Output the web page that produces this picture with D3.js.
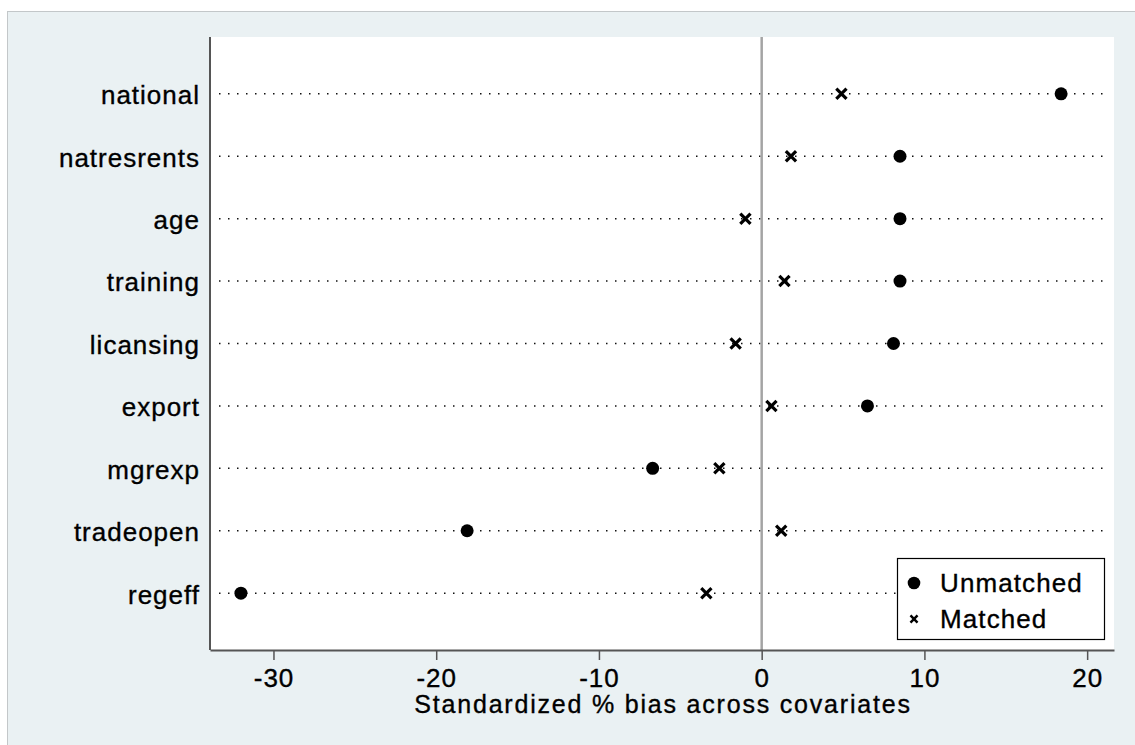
<!DOCTYPE html>
<html>
<head>
<meta charset="utf-8">
<script src="https://cdn.jsdelivr.net/npm/d3@7"></script>
<style>
  html, body { margin: 0; padding: 0; background: #fff; }
  text { font-family: "Liberation Sans", Arial, sans-serif; fill: #000; stroke: #000; stroke-width: 0.35px; }
</style>
</head>
<body>
<svg id="chart"></svg>
<script>
// Covariates, top to bottom
const covariates = ["national", "natresrents", "age", "training", "licansing", "export", "mgrexp", "tradeopen", "regeff"];
// Standardized % bias
const unmatched = [18.4, 8.5, 8.5, 8.5, 8.1, 6.5, -6.7, -18.1, -32.0];
const matched = [4.9, 1.8, -1.0, 1.4, -1.6, 0.6, -2.6, 1.2, -3.4];
const xTicks = [-30, -20, -10, 0, 10, 20];
const legendLabels = ["Unmatched", "Matched"];

// SVG dimensions
const width = 1135;
const height = 745;
const plot = { left: 210, right: 1114, top: 37, bottom: 650 };

const svg = d3.select("#chart")
    .attr("width", width)
    .attr("height", height);

// Outer (graph) region
svg.append("rect")
    .attr("x", 7.5).attr("y", 11.5)
    .attr("width", width).attr("height", height)
    .attr("fill", "#eaf1f3")
    .attr("stroke", "#c3c7c9")
    .attr("stroke-width", 1);

// Plot region
svg.append("rect")
    .attr("x", plot.left).attr("y", plot.top)
    .attr("width", plot.right - plot.left)
    .attr("height", plot.bottom - plot.top)
    .attr("fill", "#fff");

// Scales
const x = d3.scaleLinear()
    .domain([-33.9, 21.65])
    .range([plot.left, plot.right]);

const y = d3.scalePoint()
    .domain(covariates)
    .range([plot.top, plot.bottom])
    .padding(0.91);

// Dotted guide line per covariate
svg.append("g")
    .selectAll("line")
    .data(covariates)
    .enter()
    .append("line")
    .attr("x1", plot.left + 9)
    .attr("x2", plot.right - 4)
    .attr("y1", d => y(d))
    .attr("y2", d => y(d))
    .attr("stroke", "#111")
    .attr("stroke-width", 1.5)
    .attr("stroke-dasharray", "1.5,7.5");

// Zero reference line
svg.append("line")
    .attr("x1", x(0)).attr("x2", x(0))
    .attr("y1", plot.top).attr("y2", plot.bottom)
    .attr("stroke", "#a4a4a4")
    .attr("stroke-width", 2.5);

// X axis
const xAxis = svg.append("g")
    .attr("transform", `translate(0,${plot.bottom})`)
    .call(d3.axisBottom(x).tickValues(xTicks).tickFormat(d => String(d))
        .tickSize(10).tickPadding(9).tickSizeOuter(0));
xAxis.select(".domain").attr("stroke", "#555").attr("stroke-width", 2);
xAxis.selectAll(".tick line").attr("stroke", "#555").attr("stroke-width", 1.5);
xAxis.selectAll(".tick text")
    .attr("font-size", 26)
    .attr("letter-spacing", 0.9)
    .attr("dy", "0.69em")
    .attr("fill", "#000");

// Y axis (labels only, no ticks)
const yAxis = svg.append("g")
    .attr("transform", `translate(${plot.left},0)`)
    .call(d3.axisLeft(y).tickSize(0).tickPadding(10));
yAxis.select(".domain")
    .attr("d", `M0,${plot.top}V${plot.bottom}`)
    .attr("stroke", "#555").attr("stroke-width", 2);
yAxis.selectAll(".tick text")
    .attr("font-size", 26)
    .attr("letter-spacing", 1)
    .attr("dy", "0.38em")
    .attr("fill", "#000");

// Axis title
svg.append("text")
    .attr("x", (plot.left + plot.right) / 2 + 1)
    .attr("y", 713)
    .attr("text-anchor", "middle")
    .attr("font-size", 25)
    .attr("letter-spacing", 1.8)
    .text("Standardized % bias across covariates");

// Unmatched markers
svg.append("g")
    .selectAll("circle")
    .data(unmatched)
    .enter()
    .append("circle")
    .attr("cx", d => x(d))
    .attr("cy", (d, i) => y(covariates[i]))
    .attr("r", 6.5)
    .attr("fill", "#000");

// Matched markers
const cross = d3.symbol().type(d3.symbolX).size(70);
svg.append("g")
    .selectAll("path")
    .data(matched)
    .enter()
    .append("path")
    .attr("d", cross)
    .attr("transform", (d, i) => `translate(${x(d)},${y(covariates[i])})`)
    .attr("fill", "none")
    .attr("stroke", "#000")
    .attr("stroke-width", 3.2);

// Legend
const legend = svg.append("g");
legend.append("rect")
    .attr("x", 897.5).attr("y", 558.5)
    .attr("width", 207).attr("height", 81)
    .attr("fill", "#fff")
    .attr("stroke", "#000")
    .attr("stroke-width", 1.2);

const legendRows = [574, 610];
legend.append("circle")
    .attr("cx", 914).attr("cy", legendRows[0] + 9)
    .attr("r", 6.3).attr("fill", "#000");
legend.append("path")
    .attr("d", d3.symbol().type(d3.symbolX).size(34))
    .attr("transform", `translate(914,${legendRows[1] + 9})`)
    .attr("fill", "none").attr("stroke", "#000").attr("stroke-width", 2.5);

legend.selectAll("text")
    .data(legendLabels)
    .enter()
    .append("text")
    .attr("x", 940)
    .attr("y", (d, i) => legendRows[i] + 18)
    .attr("font-size", 26)
    .attr("letter-spacing", 1.1)
    .text(d => d);
</script>
</body>
</html>
